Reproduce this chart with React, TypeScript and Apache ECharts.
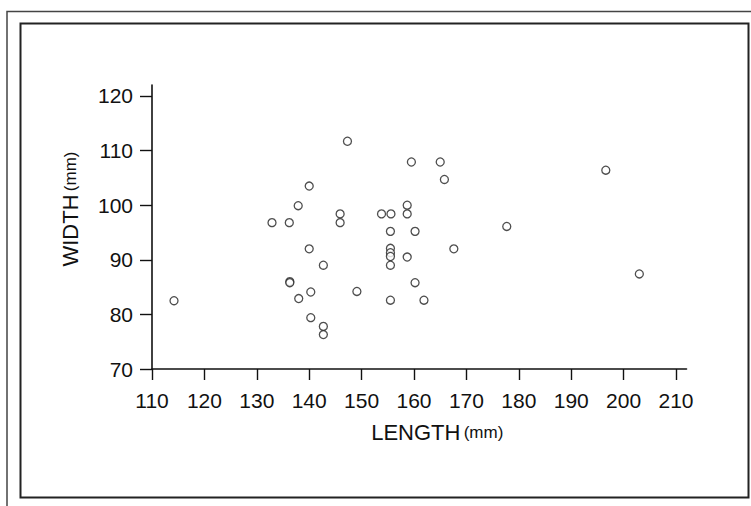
import React, { useEffect, useRef } from "react";
import * as echarts from "echarts";

const lengthMm: number[] = [
  114.2, 132.9, 136.2, 137.9, 140.0, 136.3, 136.3, 138.0, 140.3, 140.0,
  140.3, 142.7, 142.7, 142.7, 145.9, 145.9, 147.3, 149.1, 153.8, 155.6,
  155.5, 155.5, 155.5, 155.5, 155.5, 155.5, 158.7, 158.7, 158.7, 159.5,
  160.2, 160.2, 161.9, 165.0, 165.8, 167.6, 177.7, 196.6, 203.0,
];
const widthMm: number[] = [
  82.5, 96.8, 96.8, 99.9, 103.5, 86.0, 85.8, 82.9, 84.1, 92.0,
  79.4, 89.0, 77.8, 76.3, 98.4, 96.8, 111.7, 84.2, 98.4, 98.4,
  95.2, 92.1, 91.3, 90.6, 89.0, 82.6, 100.0, 98.4, 90.5, 107.9,
  95.2, 85.8, 82.6, 107.9, 104.7, 92.0, 96.1, 106.4, 87.4,
];
const xTicks: number[] = [110, 120, 130, 140, 150, 160, 170, 180, 190, 200, 210];
const yTicks: number[] = [70, 80, 90, 100, 110, 120];

const FONT = "'Liberation Sans', Arial, Helvetica, sans-serif";

export default function App() {
  const ref = useRef<HTMLDivElement>(null);
  useEffect(() => {
    if (!ref.current) return;
    const chart = echarts.init(ref.current, undefined, { renderer: "svg" });
    const points = lengthMm.map((l, i) => [l, widthMm[i]]);
    const nameRich = {
      a: { fontSize: 22, color: "#111", fontFamily: FONT },
      b: { fontSize: 17, color: "#111", fontFamily: FONT },
    };
    chart.setOption({
      animation: false,
      backgroundColor: "#ffffff",
      textStyle: { fontFamily: FONT },
      grid: { left: 152, top: 85, right: 64.5, bottom: 137, containLabel: false },
      xAxis: {
        type: "value",
        min: 110,
        max: 212,
        interval: 10,
        name: "{a|LENGTH} {b|(mm)}",
        nameLocation: "middle",
        nameGap: 52,
        nameTextStyle: { rich: nameRich, padding: [0, 0, 0, 36] },
        axisLine: { show: true, onZero: false, lineStyle: { color: "#111", width: 1.6 } },
        axisTick: { show: true, length: 11, customValues: xTicks, lineStyle: { color: "#111", width: 1.4 } },
        axisLabel: { customValues: xTicks, fontSize: 21, color: "#111", margin: 21, fontFamily: FONT },
        splitLine: { show: false },
      },
      yAxis: {
        type: "value",
        min: 70,
        max: 122,
        interval: 10,
        name: "{a|WIDTH} {b|(mm)}",
        nameLocation: "middle",
        nameGap: 71,
        nameRotate: 90,
        nameTextStyle: { rich: nameRich, padding: [0, 0, 0, 36] },
        axisLine: { show: true, onZero: false, lineStyle: { color: "#111", width: 1.6 } },
        axisTick: { show: true, length: 12, customValues: yTicks, lineStyle: { color: "#111", width: 1.4 } },
        axisLabel: { customValues: yTicks, fontSize: 21, color: "#111", margin: 19, fontFamily: FONT },
        splitLine: { show: false },
      },
      graphic: [
        {
          type: "rect",
          shape: { x: 7, y: 11.5, width: 800, height: 600 },
          style: { fill: "none", stroke: "#444", lineWidth: 1.5 },
          silent: true,
        },
        {
          type: "rect",
          shape: { x: 20.5, y: 23.5, width: 728, height: 474 },
          style: { fill: "none", stroke: "#222", lineWidth: 2 },
          silent: true,
        },
      ],
      series: [
        {
          type: "scatter",
          data: points,
          symbol: "circle",
          symbolSize: 8,
          itemStyle: { color: "#ffffff", borderColor: "#222", borderWidth: 1.3 },
        },
      ],
    });
    return () => chart.dispose();
  }, []);
  return (
    <div
      ref={ref}
      style={{ position: "absolute", left: 0, top: 0, width: 751, height: 506 }}
    />
  );
}
